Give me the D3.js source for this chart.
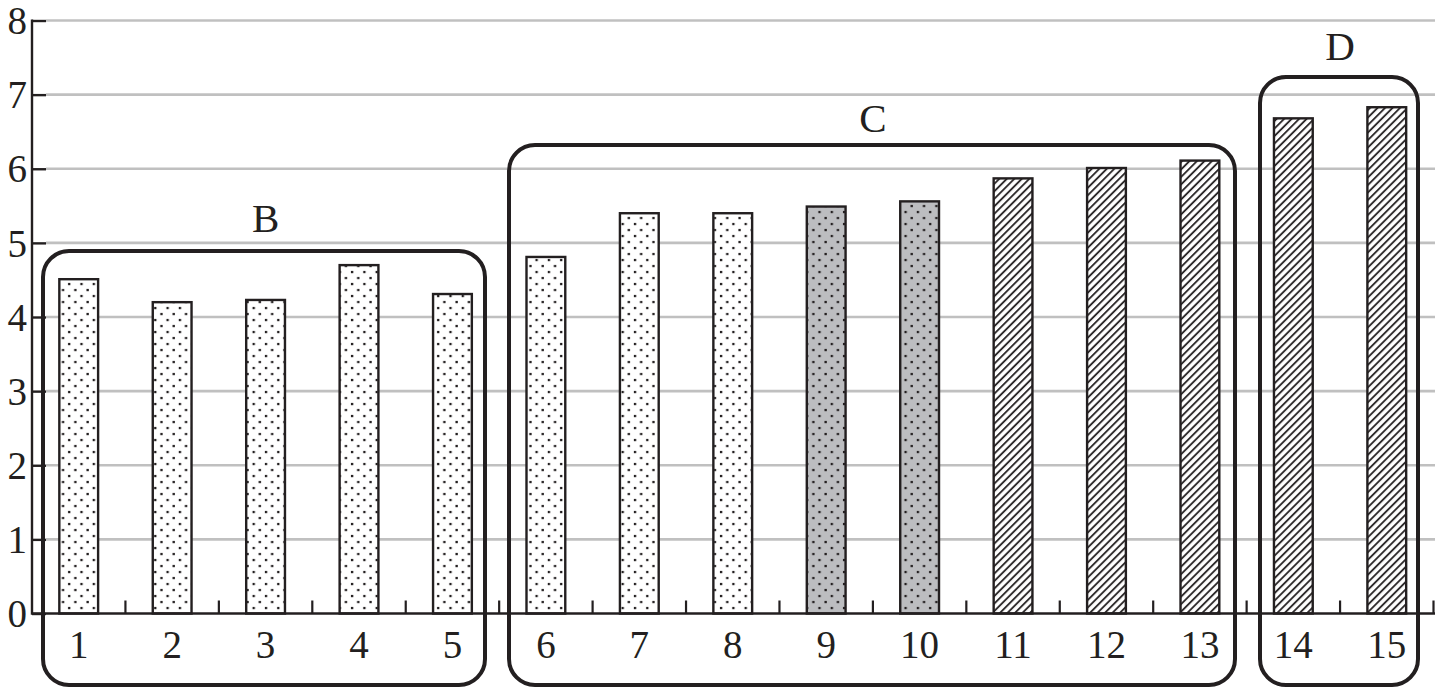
<!DOCTYPE html>
<html>
<head>
<meta charset="utf-8">
<script src="https://cdn.jsdelivr.net/npm/d3@7/dist/d3.min.js"></script>
<style>
  html, body { margin: 0; padding: 0; background: #fff; }
  svg { display: block; }
  text { font-family: "Liberation Serif", "Times New Roman", serif; fill: #231f20; }
</style>
</head>
<body>
<svg id="chart" width="1435" height="688"></svg>
<script>
// ---- data ----
const categories = ["1","2","3","4","5","6","7","8","9","10","11","12","13","14","15"];
const values = [4.51, 4.20, 4.23, 4.70, 4.31, 4.81, 5.40, 5.40, 5.49, 5.56, 5.87, 6.01, 6.11, 6.68, 6.83];
const fillTypes = ["dots","dots","dots","dots","dots","dots","dots","dots","grayDots","grayDots","hatch","hatch","hatch","hatch","hatch"];
const yTicks = [0, 1, 2, 3, 4, 5, 6, 7, 8];
const groups = [
  { label: "B", first: "1", last: "5" },
  { label: "C", first: "6", last: "13" },
  { label: "D", first: "14", last: "15" }
];

// ---- layout ----
const W = 1435, H = 688;
const mLeft = 32, mRight = 1433.5, mTop = 20.5, mBottom = 613.5;
const ink = "#231f20";

const svg = d3.select("#chart");
const x = d3.scaleBand().domain(categories).range([mLeft, mRight]).paddingInner(0.585).paddingOuter(0.2925);
const y = d3.scaleLinear().domain([0, 8]).range([mBottom, mTop]);

// patterns
const defs = svg.append("defs");
function dotPattern(id, bg) {
  const p = defs.append("pattern").attr("id", id).attr("patternUnits", "userSpaceOnUse")
    .attr("width", 12.3).attr("height", 12).attr("x", 0).attr("y", 0);
  p.append("rect").attr("width", 12.3).attr("height", 12).attr("fill", bg);
  [[1.5, 2], [7.65, 8]].forEach(([cx, cy]) => {
    p.append("rect").attr("x", cx - 1.1).attr("y", cy - 1.1).attr("width", 2.3).attr("height", 2.3).attr("fill", ink);
  });
}
dotPattern("dots", "#ffffff");
dotPattern("grayDots", "#bcbdc0");
const hp = defs.append("pattern").attr("id", "hatch").attr("patternUnits", "userSpaceOnUse")
  .attr("width", 5.3).attr("height", 8).attr("patternTransform", "rotate(45)");
hp.append("rect").attr("width", 5.3).attr("height", 8).attr("fill", "#fff");
hp.append("line").attr("x1", 1).attr("y1", 0).attr("x2", 1).attr("y2", 8)
  .attr("stroke", ink).attr("stroke-width", 1.8);

// gridlines
svg.append("g").selectAll("line").data(yTicks.filter(d => d > 0)).join("line")
  .attr("x1", mLeft + 14).attr("x2", W).attr("y1", d => y(d)).attr("y2", d => y(d))
  .attr("stroke", "#c0c0c0").attr("stroke-width", 2.6);

// y axis
const yAxis = svg.append("g").attr("transform", `translate(${mLeft},0)`)
  .call(d3.axisRight(y).tickValues(yTicks).tickSize(14).tickFormat(""));
yAxis.select(".domain").remove();
yAxis.selectAll(".tick line").attr("stroke", ink).attr("stroke-width", 2.4);
svg.append("line").attr("x1", mLeft).attr("x2", mLeft).attr("y1", mTop - 1).attr("y2", mBottom + 1.2)
  .attr("stroke", ink).attr("stroke-width", 2.4);
svg.append("g").selectAll("text").data(yTicks).join("text")
  .attr("x", 27).attr("y", d => y(d)).attr("dy", "0.35em").attr("text-anchor", "end")
  .attr("font-size", 39).text(d => d);

// bars
svg.append("g").selectAll("rect").data(categories).join("rect")
  .attr("x", d => x(d)).attr("width", x.bandwidth())
  .attr("y", (d, i) => y(values[i])).attr("height", (d, i) => y(0) - y(values[i]))
  .attr("fill", (d, i) => `url(#${fillTypes[i]})`)
  .attr("stroke", ink).attr("stroke-width", 2.4);

// x axis
svg.append("line").attr("x1", mLeft).attr("x2", W).attr("y1", mBottom).attr("y2", mBottom)
  .attr("stroke", ink).attr("stroke-width", 2.4);
const step = x.step();
const boundaries = categories.map((d, i) => x(d) - x.paddingOuter() * step + step);
svg.append("g").selectAll("line").data(boundaries).join("line")
  .attr("x1", d => d).attr("x2", d => d).attr("y1", mBottom).attr("y2", mBottom - 13)
  .attr("stroke", ink).attr("stroke-width", 2.2);
svg.append("g").selectAll("text").data(categories).join("text")
  .attr("x", d => x(d) + x.bandwidth() / 2).attr("y", 658).attr("text-anchor", "middle")
  .attr("font-size", 39).text(d => d);

// group boxes
const boxDims = {
  B: { x0: 43, x1: 485, y0: 251, lblY: 232 },
  C: { x0: 509, x1: 1235, y0: 145, lblY: 132 },
  D: { x0: 1260, x1: 1418, y0: 77, lblY: 60 }
};
groups.forEach(g => {
  const b = boxDims[g.label];
  svg.append("rect").attr("x", b.x0).attr("y", b.y0).attr("width", b.x1 - b.x0).attr("height", 685 - b.y0)
    .attr("rx", 26).attr("ry", 26).attr("fill", "none").attr("stroke", ink).attr("stroke-width", 4);
  const cx = (x(g.first) + x(g.last) + x.bandwidth()) / 2;
  svg.append("text").attr("x", cx).attr("y", b.lblY).attr("text-anchor", "middle")
    .attr("font-size", 41).text(g.label);
});
</script>
</body>
</html>
